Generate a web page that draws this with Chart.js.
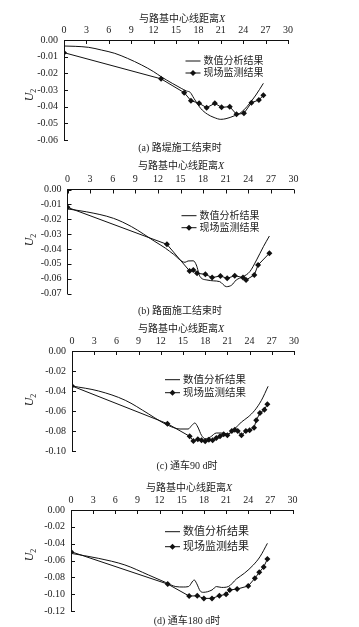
<!DOCTYPE html>
<html>
<head>
<meta charset="utf-8">
<title>U2 曲线</title>
<script src="https://cdn.jsdelivr.net/npm/chart.js@4.4.0/dist/chart.umd.min.js"></script>
<style>
  body { margin: 0; background: #fff; }
  #page { position: relative; width: 359px; height: 627px; overflow: hidden;
          font-family: "Liberation Serif", "Noto Sans CJK SC", serif; color: #222; }
  canvas { position: absolute; left: 0; }
  .lbl { position: absolute; transform: translate(-50%, -50%); white-space: nowrap; font-size: 10px; z-index: 2; }
  .ylab { position: absolute; transform: translate(-50%, -50%) rotate(-90deg); font-size: 12px; white-space: nowrap; z-index: 2; }
  .ylab sub { font-size: 8px; }
</style>
</head>
<body>
<div id="page">
  <canvas id="cA" width="359" height="145"></canvas>
  <canvas id="cB" width="359" height="150"></canvas>
  <canvas id="cC" width="359" height="150"></canvas>
  <canvas id="cD" width="359" height="150"></canvas>

  <div class="lbl" style="left:182px;top:17px">与路基中心线距离<i>X</i></div>
  <div class="ylab" style="left:30px;top:95px"><i>U</i><sub>2</sub></div>
  <div class="lbl" style="left:180px;top:146px">(a) 路堤施工结束时</div>

  <div class="lbl" style="left:181px;top:164px">与路基中心线距离<i>X</i></div>
  <div class="ylab" style="left:30px;top:240px"><i>U</i><sub>2</sub></div>
  <div class="lbl" style="left:180px;top:309px">(b) 路面施工结束时</div>

  <div class="lbl" style="left:181px;top:327px">与路基中心线距离<i>X</i></div>
  <div class="ylab" style="left:30px;top:400px"><i>U</i><sub>2</sub></div>
  <div class="lbl" style="left:187px;top:464px">(c) 通车90 d时</div>

  <div class="lbl" style="left:189px;top:486px">与路基中心线距离<i>X</i></div>
  <div class="ylab" style="left:30px;top:555px"><i>U</i><sub>2</sub></div>
  <div class="lbl" style="left:187px;top:619px">(d) 通车180 d时</div>
</div>

<script>
// tick labels
var xTicks = [0, 3, 6, 9, 12, 15, 18, 21, 24, 27, 30];
var yTicksA = [0, -0.01, -0.02, -0.03, -0.04, -0.05, -0.06];
var yTicksB = [0, -0.01, -0.02, -0.03, -0.04, -0.05, -0.06, -0.07];
var yTicksC = [0, -0.02, -0.04, -0.06, -0.08, -0.10];
var yTicksD = [0, -0.02, -0.04, -0.06, -0.08, -0.10, -0.12];

var seriesNames = ['数值分析结果', '现场监测结果'];

// (a) 路堤施工结束时
var xA_calc = [0, 1.5, 3.3, 5, 6.8, 8.5, 10.4, 12, 13, 14.5, 15.7, 16.4, 16.9, 17.4, 18.3, 19.2, 20.1, 21.0, 21.7, 22.8, 23.7, 24.5, 25.7, 26.7];
var yA_calc = [-0.0036, -0.0038, -0.0044, -0.006, -0.008, -0.011, -0.015, -0.019, -0.022, -0.026, -0.029, -0.0306, -0.0314, -0.035, -0.041, -0.0445, -0.0465, -0.0476, -0.0472, -0.0455, -0.0435, -0.040, -0.033, -0.026];
var xA_obs = [0, 13.0, 16.1, 17.0, 18.1, 19.1, 20.2, 21.1, 22.2, 23.1, 24.1, 25.1, 26.1, 26.7];
var yA_obs = [-0.0076, -0.0233, -0.0316, -0.0364, -0.038, -0.0406, -0.038, -0.0404, -0.040, -0.0446, -0.044, -0.0376, -0.036, -0.0332];

// (b) 路面施工结束时
var xB_calc = [0, 2.5, 6.1, 8.5, 10.1, 11.6, 13.0, 14.05, 15.6, 16.0, 16.7, 17.1, 17.6, 18.5, 19.4, 20.2, 21.1, 21.8, 22.4, 23.3, 24.2, 25.1, 26.0, 26.8];
var yB_calc = [-0.0131, -0.015, -0.0194, -0.025, -0.030, -0.035, -0.0395, -0.0435, -0.049, -0.0481, -0.048, -0.0508, -0.0587, -0.0609, -0.0615, -0.062, -0.0654, -0.0643, -0.0609, -0.0587, -0.0553, -0.0474, -0.0385, -0.0313];
var xB_obs = [0, 13.2, 16.2, 16.7, 17.2, 18.3, 19.2, 20.3, 21.2, 22.2, 23.3, 23.7, 24.8, 25.3, 26.8];
var yB_obs = [-0.012, -0.0369, -0.0548, -0.0542, -0.0564, -0.0571, -0.0593, -0.0582, -0.0598, -0.058, -0.0593, -0.0609, -0.0575, -0.0508, -0.0429];

// (c) 通车90 d时
var xC_calc = [0, 3.6, 7.2, 10.3, 12.1, 13.5, 14.6, 15.7, 16.2, 16.6, 17.0, 17.5, 18.0, 18.7, 19.5, 20.2, 21.1, 22.0, 22.9, 23.8, 24.7, 25.6, 26.5];
var yC_calc = [-0.035, -0.040, -0.0493, -0.0627, -0.071, -0.076, -0.078, -0.078, -0.0743, -0.072, -0.076, -0.0843, -0.0877, -0.086, -0.082, -0.082, -0.083, -0.0777, -0.071, -0.066, -0.0593, -0.0493, -0.0353];
var xC_obs = [0, 12.9, 15.9, 16.4, 17.0, 17.5, 18.0, 18.5, 19.0, 19.5, 20.0, 20.5, 21.0, 21.6, 22.0, 22.4, 22.9, 23.5, 24.0, 24.6, 24.9, 25.4, 26.0, 26.4];
var yC_obs = [-0.035, -0.0727, -0.0853, -0.090, -0.0883, -0.0893, -0.0903, -0.0887, -0.0893, -0.087, -0.0853, -0.0833, -0.0843, -0.080, -0.0787, -0.080, -0.0843, -0.080, -0.0793, -0.0767, -0.0693, -0.062, -0.0587, -0.0533];

// (d) 通车180 d时
var xD_calc = [0, 3.7, 7.3, 10.5, 12.8, 14.2, 15.2, 15.9, 16.7, 17.0, 17.5, 17.9, 19.1, 19.7, 20.4, 21.3, 22.4, 23.5, 24.7, 25.6, 26.6];
var yD_calc = [-0.0515, -0.0574, -0.0653, -0.0772, -0.086, -0.091, -0.0915, -0.091, -0.0832, -0.087, -0.0962, -0.0978, -0.095, -0.091, -0.092, -0.091, -0.082, -0.075, -0.0653, -0.0555, -0.0396];
var xD_obs = [0, 13.1, 16.0, 17.1, 18.0, 19.1, 20.1, 21.0, 21.5, 22.5, 24.0, 24.9, 25.5, 26.1, 26.6];
var yD_obs = [-0.0495, -0.088, -0.1022, -0.102, -0.105, -0.105, -0.1018, -0.1002, -0.095, -0.0939, -0.0903, -0.0812, -0.074, -0.0677, -0.0582];

var INK = '#111';
var tickFont = { family: '"Liberation Serif", "Times New Roman", serif', size: 10 };

// small ticks pointing into the plot
var inTicks = {
  id: 'inTicks',
  afterDraw: function (chart) {
    var ctx = chart.ctx, c = chart.chartArea, x = chart.scales.x, y = chart.scales.y;
    ctx.save();
    ctx.strokeStyle = INK;
    ctx.lineWidth = 1;
    ctx.beginPath();
    x.ticks.forEach(function (t) {
      var px = Math.round(x.getPixelForValue(t.value)) + 0.5;
      ctx.moveTo(px, c.top);
      ctx.lineTo(px, c.top + 4);
    });
    y.ticks.forEach(function (t) {
      var py = Math.round(y.getPixelForValue(t.value)) + 0.5;
      ctx.moveTo(c.left, py);
      ctx.lineTo(c.left + 4, py);
    });
    ctx.stroke();
    ctx.restore();
  }
};

// legend drawn inside the plot
var boxLegend = {
  id: 'boxLegend',
  afterDraw: function (chart, args, o) {
    var ctx = chart.ctx;
    ctx.save();
    ctx.font = o.size + 'px "Liberation Serif", "Noto Sans CJK SC", serif';
    ctx.textBaseline = 'middle';
    ctx.fillStyle = '#222';
    ctx.strokeStyle = INK;
    ctx.lineWidth = 1;
    chart.data.datasets.forEach(function (ds, i) {
      var y = o.y - o.canvasTop + i * o.dy;
      ctx.beginPath();
      ctx.moveTo(o.x, y);
      ctx.lineTo(o.x + o.w, y);
      ctx.stroke();
      if (ds.pointRadius) {
        var cx = o.x + o.w / 2, r = ds.pointRadius;
        ctx.beginPath();
        ctx.moveTo(cx, y - r);
        ctx.lineTo(cx + r, y);
        ctx.lineTo(cx, y + r);
        ctx.lineTo(cx - r, y);
        ctx.closePath();
        ctx.fillStyle = INK;
        ctx.fill();
        ctx.fillStyle = '#222';
      }
      ctx.fillText(ds.label, o.x + o.w + 3, y + 0.5);
    });
    ctx.restore();
  }
};

function pts(xs, ys) {
  return xs.map(function (x, i) { return { x: x, y: ys[i] }; });
}

function makePanel(p) {
  var cv = document.getElementById(p.id);
  cv.style.top = p.top + 'px';
  var a = p.area;
  p.legend.canvasTop = p.top;
  new Chart(cv, {
    type: 'scatter',
    data: {
      datasets: [
        {
          label: seriesNames[0],
          data: pts(p.xCalc, p.yCalc),
          showLine: true,
          borderColor: INK,
          borderWidth: 1,
          pointRadius: 0,
          cubicInterpolationMode: 'monotone'
        },
        {
          label: seriesNames[1],
          data: pts(p.xObs, p.yObs),
          showLine: true,
          borderColor: INK,
          borderWidth: 1,
          tension: 0,
          pointStyle: 'rectRot',
          pointRadius: 3,
          pointBackgroundColor: INK,
          pointBorderColor: INK,
          pointBorderWidth: 0
        }
      ]
    },
    options: {
      responsive: false,
      animation: false,
      devicePixelRatio: 1,
      layout: { padding: { left: 0, top: 0, right: 359 - a.r, bottom: p.top + p.height - a.b } },
      plugins: {
        legend: { display: false },
        tooltip: { enabled: false },
        boxLegend: p.legend
      },
      scales: {
        x: {
          type: 'linear',
          position: 'top',
          min: 0, max: 30,
          afterBuildTicks: function (s) { s.ticks = xTicks.map(function (v) { return { value: v }; }); },
          afterFit: function (s) {
            s.height = a.t - p.top;
            s.paddingLeft = 0; s.paddingRight = 0;
          },
          grid: { display: false, drawTicks: false },
          border: { display: true, color: INK, width: 1 },
          ticks: { font: tickFont, color: '#222', padding: 4, maxRotation: 0, autoSkip: false }
        },
        y: {
          type: 'linear',
          min: p.yTicks[p.yTicks.length - 1], max: 0,
          afterBuildTicks: function (s) { s.ticks = p.yTicks.map(function (v) { return { value: v }; }); },
          afterFit: function (s) {
            s.width = a.l;
            s.paddingTop = 0; s.paddingBottom = 0;
          },
          grid: { display: false, drawTicks: false },
          border: { display: true, color: INK, width: 1 },
          ticks: {
            font: tickFont, color: '#222', padding: 6, autoSkip: false,
            callback: function (v) { return Number(v).toFixed(2); }
          }
        }
      }
    },
    plugins: [inTicks, boxLegend]
  });
}

makePanel({ id: 'cA', top: 0, height: 145, area: { l: 64, t: 40, r: 288, b: 140 },
  xCalc: xA_calc, yCalc: yA_calc, xObs: xA_obs, yObs: yA_obs, yTicks: yTicksA,
  legend: { x: 185.5, y: 61, dy: 12, w: 15, size: 10 } });
makePanel({ id: 'cB', top: 150, height: 150, area: { l: 67.5, t: 189.5, r: 293.5, b: 293.5 },
  xCalc: xB_calc, yCalc: yB_calc, xObs: xB_obs, yObs: yB_obs, yTicks: yTicksB,
  legend: { x: 181.5, y: 215.7, dy: 12, w: 15, size: 10 } });
makePanel({ id: 'cC', top: 305, height: 150, area: { l: 72, t: 351, r: 294, b: 451 },
  xCalc: xC_calc, yCalc: yC_calc, xObs: xC_obs, yObs: yC_obs, yTicks: yTicksC,
  legend: { x: 165, y: 379.7, dy: 13, w: 15, size: 10.5 } });
makePanel({ id: 'cD', top: 465, height: 150, area: { l: 71, t: 510, r: 292.5, b: 611 },
  xCalc: xD_calc, yCalc: yD_calc, xObs: xD_obs, yObs: yD_obs, yTicks: yTicksD,
  legend: { x: 165, y: 531.7, dy: 15, w: 15, size: 11 } });
</script>
</body>
</html>
